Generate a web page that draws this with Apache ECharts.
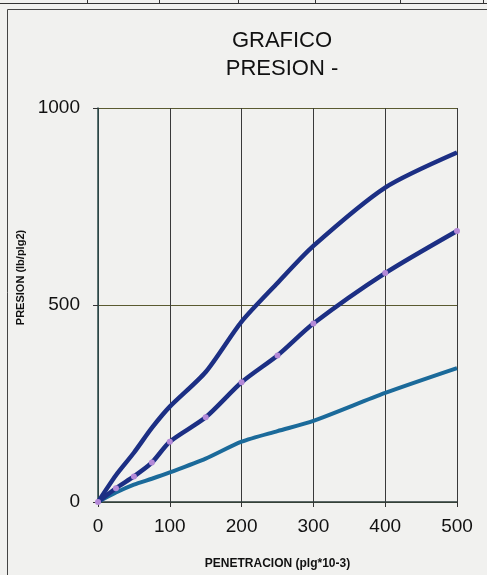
<!DOCTYPE html>
<html>
<head>
<meta charset="utf-8">
<script src="https://cdn.jsdelivr.net/npm/echarts@6/dist/echarts.min.js"></script>
<style>html,body{margin:0;padding:0;background:#f1f1ef;}#c{width:487px;height:575px;}</style>
</head>
<body>
<div id="c"></div>
<script>
var penetracion = [0, 25, 50, 75, 100, 150, 200, 250, 300, 400, 500];
var serieAlta  = [0, 68, 125, 188, 242, 330, 458, 556, 650, 798, 887];
var serieMedia = [0, 35, 65, 100, 153, 215, 304, 372, 453, 581, 688];
var serieBaja  = [0, 24, 44, 59, 75, 110, 153, 180, 206, 277, 340];
var xTicks = [0, 100, 200, 300, 400, 500];
var yTicks = [0, 500, 1000];

function pairs(ys){ return penetracion.map(function(x,i){ return [x, ys[i]]; }); }

var chart = echarts.init(document.getElementById('c'));
chart.setOption({
  backgroundColor: '#f1f1ef',
  animation: false,
  title: {
    text: 'GRAFICO\nPRESION -',
    left: 277, textAlign: 'center', top: 22,
    textStyle: { fontFamily: 'Liberation Sans', fontSize: 22, fontWeight: 'normal', color: '#111', lineHeight: 28 }
  },
  grid: { left: 98, right: 30, top: 108, bottom: 70 },
  xAxis: {
    type: 'value', min: 0, max: 500, interval: 100,
    name: 'PENETRACION (plg*10-3)', nameLocation: 'middle', nameGap: 56,
    nameTextStyle: { fontFamily: 'Liberation Sans', fontSize: 12, fontWeight: 'bold', color: '#111' },
    axisLine: { show: true, lineStyle: { color: '#2a3a3a', width: 1.5 } },
    axisTick: { show: true, length: 5, lineStyle: { color: '#333' } },
    axisLabel: { fontFamily: 'Liberation Sans', fontSize: 19, color: '#111', margin: 15,
      formatter: function(v){ return xTicks.indexOf(v) >= 0 ? String(v) : ''; } },
    splitLine: { show: true, lineStyle: { color: '#3a3a3a', width: 1 } }
  },
  yAxis: {
    type: 'value', min: 0, max: 1000, interval: 500,
    name: 'PRESION (lb/plg2)', nameLocation: 'middle', nameGap: 72, nameRotate: 90,
    nameTextStyle: { fontFamily: 'Liberation Sans', fontSize: 11, fontWeight: 'bold', color: '#111', padding: [0, 0, 0, 55] },
    axisLine: { show: true, lineStyle: { color: '#2a4a4a', width: 1.5 } },
    axisTick: { show: true, length: 5, lineStyle: { color: '#333' } },
    axisLabel: { fontFamily: 'Liberation Sans', fontSize: 19, color: '#111', margin: 18,
      formatter: function(v){ return yTicks.indexOf(v) >= 0 ? String(v) : ''; } },
    splitLine: { show: true, lineStyle: { color: '#5a5a30', width: 1 } }
  },
  graphic: [
    { type: 'line', shape: { x1: 7.5, y1: 9.5, x2: 7.5, y2: 575 }, style: { stroke: '#444', lineWidth: 1 } },
    { type: 'line', shape: { x1: 7.5, y1: 9.5, x2: 487, y2: 9.5 }, style: { stroke: '#444', lineWidth: 1 } },
    { type: 'line', shape: { x1: 0, y1: 3.5, x2: 487, y2: 3.5 }, style: { stroke: '#333', lineWidth: 1 } },
    { type: 'line', shape: { x1: 87.5, y1: 0, x2: 87.5, y2: 3.5 }, style: { stroke: '#333', lineWidth: 1 } },
    { type: 'line', shape: { x1: 159.5, y1: 0, x2: 159.5, y2: 3.5 }, style: { stroke: '#333', lineWidth: 1 } },
    { type: 'line', shape: { x1: 238.5, y1: 0, x2: 238.5, y2: 3.5 }, style: { stroke: '#333', lineWidth: 1 } },
    { type: 'line', shape: { x1: 315.5, y1: 0, x2: 315.5, y2: 3.5 }, style: { stroke: '#333', lineWidth: 1 } },
    { type: 'line', shape: { x1: 400.5, y1: 0, x2: 400.5, y2: 3.5 }, style: { stroke: '#333', lineWidth: 1 } },
    { type: 'line', shape: { x1: 483.5, y1: 0, x2: 483.5, y2: 3.5 }, style: { stroke: '#333', lineWidth: 1 } }
  ],
  series: [
    { type: 'line', data: pairs(serieBaja), smooth: 0.25, symbol: 'none',
      lineStyle: { color: '#1b6a9a', width: 4 }, z: 3 },
    { type: 'line', data: pairs(serieAlta), smooth: 0.25, symbol: 'none',
      lineStyle: { color: '#1c2f84', width: 4.5 }, z: 4 },
    { type: 'line', data: pairs(serieMedia), smooth: 0.25, symbol: 'circle', symbolSize: 6,
      itemStyle: { color: '#b48ad8', borderWidth: 0 },
      lineStyle: { color: '#1c2f84', width: 4.5 }, z: 5 }
  ]
});
</script>
</body>
</html>
